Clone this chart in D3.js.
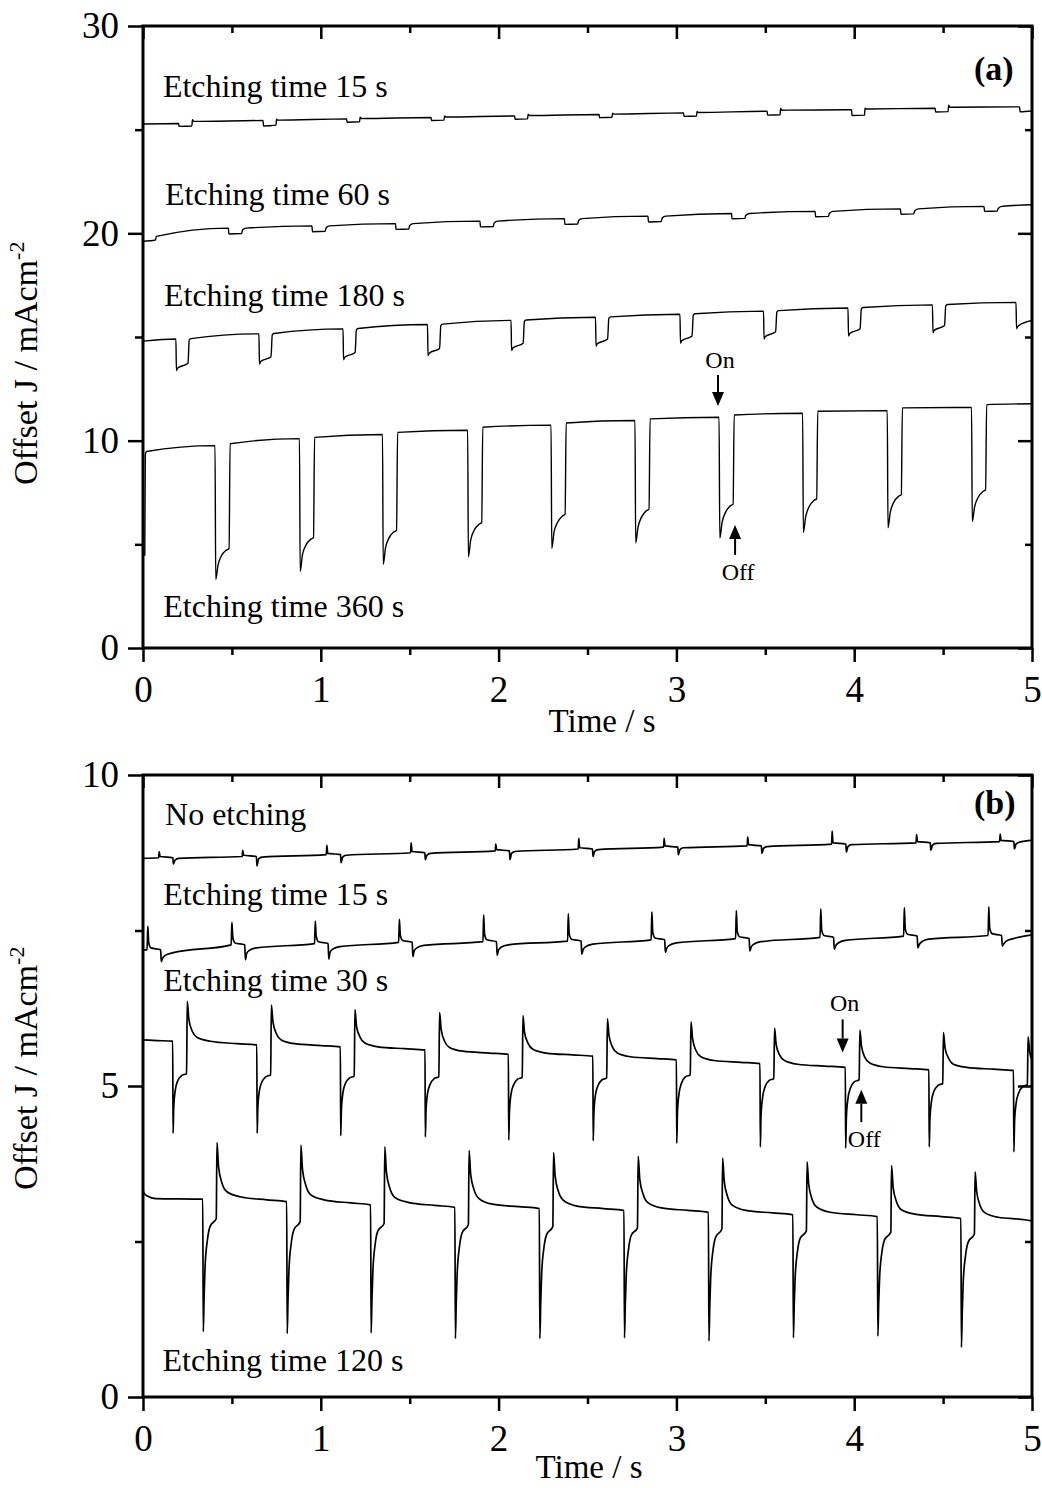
<!DOCTYPE html>
<html>
<head>
<meta charset="utf-8">
<script src="https://cdn.jsdelivr.net/npm/d3@7"></script>
<style>
  html, body { margin: 0; padding: 0; background: #fff; }
  svg { display: block; }
  text { font-family: "Liberation Serif", "Times New Roman", serif; fill: #000; }
</style>
</head>
<body>
<svg id="chart" width="1042" height="1488"></svg>
<script>
// ---------- axis ticks ----------
const xTicksMajor = [0, 1, 2, 3, 4, 5];
const xTicksMinor = [0.5, 1.5, 2.5, 3.5, 4.5];
const yTicksMajorA = [0, 10, 20, 30];
const yTicksMinorA = [5, 15, 25];
const yTicksMajorB = [0, 5, 10];
const yTicksMinorB = [2.5, 7.5];

// ---------- panel (a): offset photocurrent, [time s, J mA/cm2] ----------
const curveA15 = [
  [0,25.27],[0.2,25.30],[0.203,25.16],[0.275,25.18],[0.278,25.48],[0.285,25.40],
  [0.675,25.44],[0.678,25.18],[0.748,25.22],[0.751,25.50],[0.758,25.46],
  [1.145,25.52],[1.148,25.36],[1.218,25.38],[1.221,25.60],[1.228,25.54],
  [1.62,25.59],[1.623,25.44],[1.693,25.46],[1.696,25.66],[1.703,25.61],
  [2.09,25.66],[2.093,25.50],[2.163,25.52],[2.166,25.74],[2.173,25.68],
  [2.565,25.73],[2.568,25.58],[2.638,25.60],[2.641,25.80],[2.648,25.75],
  [3.04,25.81],[3.043,25.64],[3.113,25.66],[3.116,25.88],[3.123,25.83],
  [3.51,25.89],[3.513,25.70],[3.583,25.72],[3.586,26.02],[3.593,25.94],
  [3.985,25.96],[3.988,25.68],[4.058,25.70],[4.061,26.04],[4.068,26.00],
  [4.455,26.03],[4.458,25.85],[4.528,25.87],[4.531,26.18],[4.538,26.08],
  [4.93,26.10],[4.933,25.86],[5.0,25.90]
];
const curveA60 = [
  [0,19.62],[0.07,19.68],[0.075,19.85],
  [0.48,20.25],[0.483,19.97],[0.555,19.99],[0.56,20.17],[0.58,20.25],
  [0.95,20.36],[0.953,20.08],[1.025,20.10],[1.03,20.27],[1.05,20.36],
  [1.42,20.47],[1.423,20.19],[1.495,20.21],[1.5,20.38],[1.52,20.47],
  [1.895,20.59],[1.898,20.31],[1.97,20.33],[1.975,20.5],[1.995,20.59],
  [2.37,20.71],[2.373,20.43],[2.445,20.45],[2.45,20.62],[2.47,20.71],
  [2.84,20.83],[2.843,20.55],[2.915,20.57],[2.92,20.74],[2.94,20.83],
  [3.31,20.96],[3.313,20.7],[3.385,20.72],[3.39,20.86],[3.41,20.96],
  [3.78,21.06],[3.783,20.8],[3.855,20.82],[3.86,20.96],[3.88,21.06],
  [4.26,21.18],[4.263,20.92],[4.335,20.94],[4.34,21.08],[4.36,21.18],
  [4.73,21.3],[4.733,21.06],[4.805,21.08],[4.81,21.2],[4.83,21.3],
  [5,21.38]
];
const curveA180 = [
  [0,14.8],
  [0.185,14.9],[0.188,13.38],[0.195,13.5],[0.253,13.73],[0.26,14.85],[0.27,14.92],
  [0.652,15.15],[0.655,13.7],[0.662,13.82],[0.72,14.05],[0.727,15.1],[0.737,15.17],
  [1.125,15.39],[1.128,13.9],[1.135,14.02],[1.193,14.25],[1.2,15.34],[1.21,15.41],
  [1.6,15.6],[1.603,14.1],[1.61,14.22],[1.668,14.45],[1.675,15.55],[1.685,15.62],
  [2.07,15.8],[2.073,14.35],[2.08,14.47],[2.138,14.7],[2.145,15.75],[2.155,15.82],
  [2.545,15.95],[2.548,14.55],[2.555,14.67],[2.613,14.9],[2.62,15.9],[2.63,15.97],
  [3.02,16.1],[3.023,14.7],[3.03,14.82],[3.088,15.05],[3.095,16.05],[3.105,16.12],
  [3.49,16.25],[3.493,14.9],[3.5,15.02],[3.558,15.25],[3.565,16.2],[3.575,16.27],
  [3.965,16.4],[3.968,15.05],[3.975,15.17],[4.033,15.4],[4.04,16.35],[4.05,16.42],
  [4.44,16.55],[4.443,15.2],[4.45,15.32],[4.508,15.55],[4.515,16.5],[4.525,16.57],
  [4.91,16.67],[4.913,15.4],[4.92,15.52],[4.978,15.75],[5,15.8]
];
const curveA360 = [
  [0.01,4.45],[0.013,9.3],[0.02,9.48],[0.405,9.76],
  [0.409,3.3],[0.422,4.0],[0.441,4.45],[0.469,4.72],[0.484,4.8],[0.49,9.85],
  [0.88,10.1],[0.884,3.7],[0.897,4.5],[0.916,4.95],[0.944,5.25],[0.959,5.33],[0.965,10.16],
  [1.347,10.3],[1.351,4.04],[1.364,4.83],[1.383,5.3],[1.411,5.6],[1.426,5.68],[1.432,10.4],
  [1.826,10.5],[1.83,4.4],[1.843,5.2],[1.862,5.67],[1.89,5.97],[1.905,6.05],[1.911,10.65],
  [2.295,10.75],[2.299,4.8],[2.312,5.6],[2.331,6.05],[2.359,6.37],[2.374,6.45],[2.38,10.85],
  [2.767,10.97],[2.771,5.06],[2.784,5.82],[2.803,6.3],[2.831,6.62],[2.846,6.7],[2.852,11.05],
  [3.24,11.13],[3.244,5.3],[3.257,6.06],[3.276,6.54],[3.304,6.86],[3.319,6.94],[3.325,11.24],
  [3.71,11.32],[3.714,5.57],[3.727,6.33],[3.746,6.81],[3.774,7.12],[3.789,7.2],[3.795,11.42],
  [4.186,11.45],[4.19,5.8],[4.203,6.55],[4.222,7.02],[4.25,7.32],[4.265,7.4],[4.271,11.58],
  [4.66,11.6],[4.664,6.1],[4.677,6.8],[4.696,7.25],[4.724,7.55],[4.739,7.63],[4.745,11.74],
  [5,11.78]
];

// ---------- panel (b) ----------
const curveB0 = [
  [0,8.66],
  [0.088,8.67],[0.091,8.77],[0.096,8.69],[0.168,8.67],[0.171,8.57],[0.18,8.63],[0.2,8.66],
  [0.558,8.69],[0.561,8.79],[0.566,8.71],[0.638,8.69],[0.641,8.54],[0.65,8.65],[0.67,8.68],
  [1.031,8.72],[1.034,8.87],[1.039,8.74],[1.111,8.72],[1.114,8.59],[1.123,8.68],[1.143,8.71],
  [1.505,8.75],[1.508,8.91],[1.513,8.77],[1.585,8.75],[1.588,8.64],[1.597,8.71],[1.617,8.74],
  [1.981,8.78],[1.984,8.89],[1.989,8.8],[2.061,8.78],[2.064,8.64],[2.073,8.74],[2.093,8.77],
  [2.448,8.81],[2.451,8.98],[2.456,8.83],[2.528,8.81],[2.531,8.69],[2.54,8.77],[2.56,8.8],
  [2.928,8.84],[2.931,8.98],[2.936,8.86],[3.008,8.84],[3.011,8.72],[3.02,8.8],[3.04,8.83],
  [3.398,8.86],[3.401,9.0],[3.406,8.88],[3.478,8.86],[3.481,8.74],[3.49,8.82],[3.51,8.85],
  [3.873,8.89],[3.876,9.1],[3.881,8.91],[3.953,8.89],[3.956,8.76],[3.965,8.85],[3.985,8.88],
  [4.348,8.91],[4.351,9.04],[4.356,8.93],[4.428,8.91],[4.431,8.79],[4.44,8.87],[4.46,8.9],
  [4.818,8.93],[4.821,9.05],[4.826,8.95],[4.898,8.93],[4.901,8.81],[4.91,8.89],[4.93,8.92],
  [5,8.95]
];
const curveB15 = [
  [0,7.19],
  [0.023,7.19],[0.027,7.57],[0.032,7.31],[0.045,7.22],[0.099,7.19],[0.103,7.0],[0.11,7.05],[0.125,7.1],[0.165,7.14],
  [0.496,7.27],[0.5,7.63],[0.505,7.39],[0.518,7.3],[0.572,7.27],[0.576,7.03],[0.583,7.13],[0.598,7.18],[0.638,7.22],
  [0.965,7.29],[0.969,7.65],[0.974,7.41],[0.987,7.32],[1.041,7.29],[1.045,7.04],[1.052,7.15],[1.067,7.2],[1.107,7.24],
  [1.438,7.31],[1.442,7.68],[1.447,7.43],[1.46,7.34],[1.514,7.31],[1.518,7.08],[1.525,7.17],[1.54,7.22],[1.58,7.26],
  [1.912,7.32],[1.916,7.75],[1.921,7.44],[1.934,7.35],[1.988,7.32],[1.992,7.1],[1.999,7.18],[2.014,7.23],[2.054,7.27],
  [2.388,7.33],[2.392,7.77],[2.397,7.45],[2.41,7.36],[2.464,7.33],[2.468,7.12],[2.475,7.19],[2.49,7.24],[2.53,7.28],
  [2.858,7.35],[2.862,7.8],[2.867,7.47],[2.88,7.38],[2.934,7.35],[2.938,7.15],[2.945,7.21],[2.96,7.26],[3.0,7.3],
  [3.333,7.37],[3.337,7.82],[3.342,7.49],[3.355,7.4],[3.409,7.37],[3.413,7.17],[3.42,7.23],[3.435,7.28],[3.475,7.32],
  [3.808,7.39],[3.812,7.85],[3.817,7.51],[3.83,7.42],[3.884,7.39],[3.888,7.2],[3.895,7.25],[3.91,7.3],[3.95,7.34],
  [4.278,7.41],[4.282,7.87],[4.287,7.53],[4.3,7.44],[4.354,7.41],[4.358,7.22],[4.365,7.27],[4.38,7.32],[4.42,7.36],
  [4.753,7.42],[4.757,7.88],[4.762,7.54],[4.775,7.45],[4.829,7.42],[4.833,7.25],[4.84,7.28],[4.855,7.33],[4.895,7.37],
  [5,7.43]
];
const curveB30 = [
  [0,5.74],[0.08,5.73],
  [0.167,5.72],[0.169,4.24],[0.173,4.67],[0.182,4.94],[0.195,5.08],[0.219,5.17],[0.245,5.2],[0.249,6.36],[0.258,6.07],[0.277,5.88],[0.305,5.78],[0.379,5.72],[0.529,5.68],
  [0.64,5.66],[0.642,4.24],[0.646,4.66],[0.655,4.93],[0.668,5.06],[0.692,5.15],[0.718,5.18],[0.722,6.3],[0.731,6.03],[0.75,5.84],[0.778,5.74],[0.852,5.68],[1.002,5.65],
  [1.11,5.63],[1.112,4.2],[1.116,4.63],[1.125,4.90],[1.138,5.04],[1.162,5.13],[1.188,5.16],[1.192,6.23],[1.201,5.96],[1.22,5.79],[1.248,5.69],[1.322,5.63],[1.472,5.60],
  [1.586,5.58],[1.588,4.18],[1.592,4.62],[1.601,4.89],[1.614,5.02],[1.638,5.12],[1.664,5.15],[1.668,6.18],[1.677,5.91],[1.696,5.72],[1.724,5.62],[1.798,5.56],[1.948,5.53],
  [2.055,5.51],[2.057,4.13],[2.061,4.58],[2.07,4.87],[2.083,5.01],[2.107,5.11],[2.133,5.14],[2.137,6.13],[2.146,5.86],[2.165,5.69],[2.193,5.59],[2.267,5.53],[2.417,5.50],
  [2.53,5.48],[2.532,4.12],[2.536,4.57],[2.545,4.86],[2.558,5.0],[2.582,5.10],[2.608,5.13],[2.612,6.08],[2.621,5.81],[2.64,5.63],[2.668,5.53],[2.742,5.47],[2.892,5.44],
  [3.0,5.42],[3.002,4.08],[3.006,4.58],[3.015,4.88],[3.028,5.04],[3.052,5.15],[3.078,5.18],[3.082,6.03],[3.091,5.76],[3.11,5.57],[3.138,5.47],[3.212,5.41],[3.362,5.38],
  [3.47,5.36],[3.472,4.02],[3.476,4.52],[3.485,4.82],[3.498,4.98],[3.522,5.09],[3.548,5.12],[3.552,5.93],[3.561,5.67],[3.58,5.50],[3.608,5.41],[3.682,5.35],[3.832,5.32],
  [3.95,5.3],[3.952,4.0],[3.956,4.5],[3.965,4.8],[3.978,4.96],[4.002,5.07],[4.028,5.1],[4.032,5.9],[4.041,5.64],[4.06,5.46],[4.088,5.37],[4.162,5.31],[4.312,5.28],
  [4.42,5.26],[4.422,4.02],[4.426,4.48],[4.435,4.76],[4.448,4.91],[4.472,5.01],[4.498,5.04],[4.502,5.86],[4.511,5.61],[4.53,5.45],[4.558,5.35],[4.632,5.30],[4.782,5.27],
  [4.896,5.25],[4.898,3.94],[4.902,4.43],[4.911,4.73],[4.924,4.88],[4.948,4.99],[4.974,5.02],[4.978,5.79],[4.987,5.55],[5.0,5.42]
];
const curveB120 = [
  [0,3.32],[0.008,3.27],[0.025,3.23],[0.07,3.19],
  [0.336,3.18],[0.339,1.05],[0.344,1.65],[0.349,2.09],[0.362,2.52],[0.377,2.74],[0.412,2.87],[0.416,4.09],[0.425,3.70],[0.444,3.44],[0.472,3.30],[0.546,3.22],[0.696,3.17],
  [0.808,3.14],[0.811,1.02],[0.816,1.61],[0.821,2.05],[0.834,2.48],[0.849,2.69],[0.884,2.82],[0.888,4.05],[0.897,3.66],[0.916,3.40],[0.944,3.25],[1.018,3.17],[1.168,3.12],
  [1.28,3.09],[1.283,1.03],[1.288,1.61],[1.293,2.03],[1.306,2.46],[1.321,2.67],[1.356,2.79],[1.36,4.02],[1.369,3.62],[1.388,3.36],[1.416,3.21],[1.49,3.13],[1.64,3.08],
  [1.754,3.05],[1.757,0.94],[1.762,1.54],[1.767,1.98],[1.78,2.42],[1.795,2.64],[1.83,2.77],[1.834,3.96],[1.843,3.58],[1.862,3.33],[1.89,3.19],[1.964,3.10],[2.114,3.06],
  [2.229,3.03],[2.232,0.94],[2.237,1.53],[2.242,1.97],[2.255,2.40],[2.27,2.61],[2.305,2.74],[2.309,3.93],[2.318,3.55],[2.337,3.30],[2.365,3.16],[2.439,3.07],[2.589,3.03],
  [2.705,3.0],[2.708,0.95],[2.713,1.53],[2.718,1.96],[2.731,2.38],[2.746,2.60],[2.781,2.72],[2.785,3.87],[2.794,3.50],[2.813,3.26],[2.841,3.12],[2.915,3.04],[3.065,3.00],
  [3.18,2.97],[3.183,0.9],[3.188,1.49],[3.193,1.93],[3.206,2.36],[3.221,2.57],[3.256,2.7],[3.26,3.84],[3.269,3.47],[3.288,3.22],[3.316,3.08],[3.39,3.00],[3.54,2.96],
  [3.655,2.93],[3.658,0.95],[3.663,1.52],[3.668,1.93],[3.681,2.34],[3.696,2.55],[3.731,2.67],[3.735,3.78],[3.744,3.42],[3.763,3.18],[3.791,3.05],[3.865,2.97],[4.015,2.93],
  [4.13,2.9],[4.133,0.98],[4.138,1.53],[4.143,1.93],[4.156,2.33],[4.171,2.53],[4.206,2.65],[4.21,3.72],[4.219,3.37],[4.238,3.14],[4.266,3.01],[4.34,2.94],[4.49,2.90],
  [4.6,2.87],[4.603,0.8],[4.608,1.40],[4.613,1.84],[4.626,2.27],[4.641,2.49],[4.676,2.62],[4.68,3.62],[4.689,3.30],[4.708,3.08],[4.736,2.96],[4.81,2.89],[4.96,2.85],[5,2.83]
];

// ---------- labels (text, time, J) ----------
const labelsA = [
  ["Etching time 15 s", 0.112, 26.58],
  ["Etching time 60 s", 0.124, 21.37],
  ["Etching time 180 s", 0.118, 16.5],
  ["Etching time 360 s", 0.114, 1.48]
];
const labelsB = [
  ["No etching", 0.124, 9.20],
  ["Etching time 15 s", 0.114, 7.91],
  ["Etching time 30 s", 0.114, 6.53],
  ["Etching time 120 s", 0.11, 0.42]
];
// on/off arrows: [label, time, J tail, J head, label J]
const arrowsA = [
  ["On", 3.234, 13.17, 11.67, 13.5],
  ["Off", 3.33, 4.49, 5.93, 3.28]
];
const arrowsB = [
  ["On", 3.935, 6.07, 5.54, 6.2],
  ["Off", 4.04, 4.42, 4.94, 4.02]
];

const svg = d3.select("#chart");
svg.append("rect").attr("width", 1042).attr("height", 1488).attr("fill", "#fff");

const LEFT = 143, RIGHT = 1032;
const x = d3.scaleLinear().domain([0, 5]).range([LEFT, RIGHT]);

const panels = [
  { top: 26, bottom: 648, ymax: 30, yMajor: yTicksMajorA, yMinor: yTicksMinorA,
    series: [curveA15, curveA60, curveA180, curveA360], labels: labelsA, arrows: arrowsA,
    tag: "(a)", tagY: 80, titleX: 602, titleY: 732, ytitleStart: 485, lineW: 1.4 },
  { top: 775, bottom: 1397, ymax: 10, yMajor: yTicksMajorB, yMinor: yTicksMinorB,
    series: [curveB0, curveB15, curveB30, curveB120], labels: labelsB, arrows: arrowsB,
    tag: "(b)", tagY: 814, titleX: 589, titleY: 1478, ytitleStart: 1190, lineW: 1.7 }
];

panels.forEach((p, i) => {
  const y = d3.scaleLinear().domain([0, p.ymax]).range([p.bottom, p.top]);
  const g = svg.append("g");

  const clipId = "clip" + i;
  svg.append("clipPath").attr("id", clipId).append("rect")
    .attr("x", LEFT).attr("y", p.top).attr("width", RIGHT - LEFT).attr("height", p.bottom - p.top);

  // traces
  const line = d3.line().x(d => x(d[0])).y(d => y(d[1])).curve(d3.curveMonotoneX);
  g.append("g").attr("clip-path", `url(#${clipId})`)
    .selectAll("path").data(p.series).join("path")
    .attr("d", line).attr("fill", "none").attr("stroke", "#000")
    .attr("stroke-width", p.lineW).attr("stroke-linejoin", "round");

  const fmt = d3.format("d");
  const styleAxis = sel => {
    sel.select(".domain").remove();
    sel.selectAll("line").attr("stroke", "#000").attr("stroke-width", 2.5);
    sel.selectAll("text").attr("font-size", 37).attr("font-family", "Liberation Serif, serif").attr("fill", "#000");
    sel.attr("font-family", null).attr("font-size", null);
  };

  // bottom: outward ticks with labels
  g.append("g").attr("transform", `translate(0,${p.bottom})`)
    .call(d3.axisBottom(x).tickValues(xTicksMajor).tickSize(14).tickPadding(14).tickFormat(fmt)).call(styleAxis);
  g.append("g").attr("transform", `translate(0,${p.bottom})`)
    .call(d3.axisBottom(x).tickValues(xTicksMinor).tickSize(7).tickFormat("")).call(styleAxis);
  // top: inward ticks
  g.append("g").attr("transform", `translate(0,${p.top})`)
    .call(d3.axisTop(x).tickValues(xTicksMajor).tickSize(-13).tickFormat("")).call(styleAxis);
  g.append("g").attr("transform", `translate(0,${p.top})`)
    .call(d3.axisTop(x).tickValues(xTicksMinor).tickSize(-7).tickFormat("")).call(styleAxis);
  // left: outward ticks with labels
  g.append("g").attr("transform", `translate(${LEFT},0)`)
    .call(d3.axisLeft(y).tickValues(p.yMajor).tickSize(15).tickPadding(9).tickFormat(fmt)).call(styleAxis);
  g.append("g").attr("transform", `translate(${LEFT},0)`)
    .call(d3.axisLeft(y).tickValues(p.yMinor).tickSize(8).tickFormat("")).call(styleAxis);
  // right: inward ticks
  g.append("g").attr("transform", `translate(${RIGHT},0)`)
    .call(d3.axisRight(y).tickValues(p.yMajor).tickSize(-14).tickFormat("")).call(styleAxis);
  g.append("g").attr("transform", `translate(${RIGHT},0)`)
    .call(d3.axisRight(y).tickValues(p.yMinor).tickSize(-7).tickFormat("")).call(styleAxis);

  // frame
  g.append("rect").attr("x", LEFT).attr("y", p.top)
    .attr("width", RIGHT - LEFT).attr("height", p.bottom - p.top)
    .attr("fill", "none").attr("stroke", "#000").attr("stroke-width", 3);

  // curve labels
  g.selectAll("text.lbl").data(p.labels).join("text").attr("class", "lbl")
    .attr("x", d => x(d[1])).attr("y", d => y(d[2]))
    .attr("font-size", 32).text(d => d[0]);

  // panel tag
  g.append("text").attr("x", 974).attr("y", p.tagY)
    .attr("font-size", 34).attr("font-weight", "bold").text(p.tag);

  // on/off arrows
  p.arrows.forEach(a => {
    const ax = x(a[1]), y0 = y(a[2]), y1 = y(a[3]);
    const dir = y1 > y0 ? 1 : -1;
    const head = 14, hw = 6;
    g.append("line").attr("x1", ax).attr("x2", ax).attr("y1", y0).attr("y2", y1 - dir * head)
      .attr("stroke", "#000").attr("stroke-width", 2);
    g.append("path")
      .attr("d", `M${ax},${y1} L${ax - hw},${y1 - dir * head} L${ax + hw},${y1 - dir * head} Z`)
      .attr("fill", "#000");
    const ly = y(a[4]);
    g.append("text").attr("x", ax + (a[0] === "Off" ? 3 : 2)).attr("y", ly)
      .attr("text-anchor", "middle").attr("font-size", 24).text(a[0]);
  });

  // axis titles
  g.append("text").attr("x", p.titleX).attr("y", p.titleY)
    .attr("text-anchor", "middle").attr("font-size", 33).text("Time / s");
  const yt = g.append("text")
    .attr("transform", `translate(37,${p.ytitleStart}) rotate(-90)`)
    .attr("font-size", 34);
  yt.append("tspan").text("Offset J / mAcm");
  yt.append("tspan").attr("dy", -13).attr("font-size", 22).text("-2");
});
</script>
</body>
</html>
